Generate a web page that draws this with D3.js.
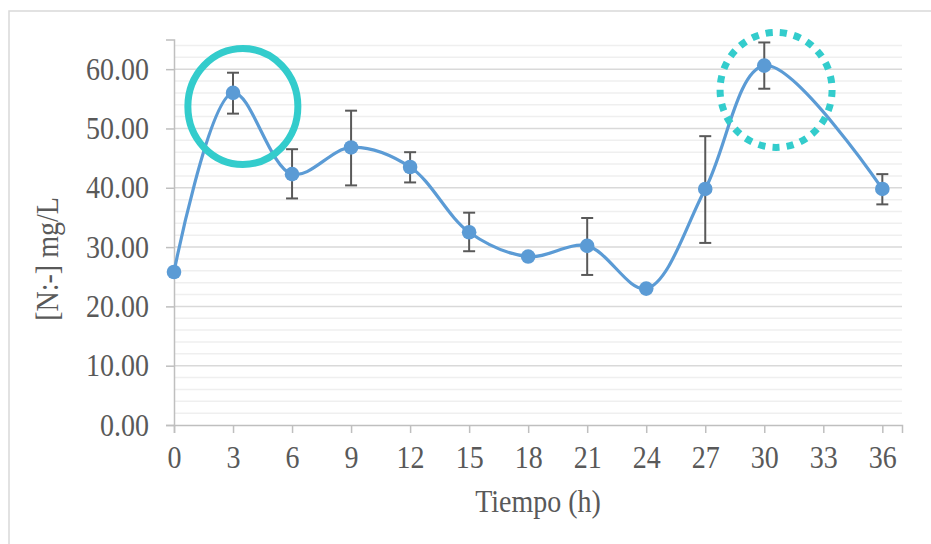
<!DOCTYPE html>
<html>
<head>
<meta charset="utf-8">
<script src="https://cdn.jsdelivr.net/npm/d3@7"></script>
<style>
  html, body { margin: 0; padding: 0; background: #ffffff; }
  svg { display: block; }
  text { font-family: "Liberation Serif", "Times New Roman", serif; fill: #595959; }
</style>
</head>
<body>
<svg id="chart" width="931" height="544"></svg>
<script>
// ---- data ----
const hours      = [0, 3, 6, 9, 12, 15, 18, 21, 24, 27, 30, 36];
const conc       = [25.8, 56.0, 42.3, 46.8, 43.5, 32.5, 28.4, 30.2, 23.0, 39.8, 60.6, 39.8];
const errUpper   = [null, 59.4, 46.5, 53.0, 46.0, 35.8, null, 34.9, null, 48.7, 64.5, 42.3];
const errLower   = [null, 52.5, 38.2, 40.4, 40.9, 29.3, null, 25.3, null, 30.7, 56.7, 37.2];
const xTickVals  = [0, 3, 6, 9, 12, 15, 18, 21, 24, 27, 30, 33, 36];
const yTickVals  = [0, 10, 20, 30, 40, 50, 60];
const yMinorVals = d3.range(0, 65, 2);
const xTitle = "Tiempo (h)";
const yTitle = "[N:-] mg/L";
// highlight annotations (data coords of centre)
const highlightX = [3.5, 30.6];
const highlightY = [53.7, 56.5];
const highlightStyle = ["solid", "dotted"];

// ---- layout ----
const svg = d3.select("#chart");
const x = d3.scaleLinear().domain([0, 37]).range([174, 902]);
const y = d3.scaleLinear().domain([0, 65]).range([425, 39.5]);
const SY = 1.12; // vertical stretch of the text in the reference

// outer chart border
svg.append("rect").attr("x", 9).attr("y", 11).attr("width", 940).attr("height", 560)
  .attr("fill", "none").attr("stroke", "#d9d9d9").attr("stroke-width", 1.5);

// minor gridlines
svg.append("g").selectAll("line").data(yMinorVals.filter(v => v % 10 !== 0)).join("line")
  .attr("x1", x(0)).attr("x2", x(37)).attr("y1", d => y(d)).attr("y2", d => y(d))
  .attr("stroke", "#efefef").attr("stroke-width", 1.5);

// major gridlines
svg.append("g").selectAll("line").data(yTickVals.filter(v => v > 0)).join("line")
  .attr("x1", x(0)).attr("x2", x(37)).attr("y1", d => y(d)).attr("y2", d => y(d))
  .attr("stroke", "#d9d9d9").attr("stroke-width", 1.5);

// y axis
const yAxis = d3.axisLeft(y).tickValues(yTickVals).tickFormat(d3.format(".2f")).tickSize(8).tickPadding(17);
const gy = svg.append("g").attr("transform", `translate(${x(0)},0)`).call(yAxis);
gy.select(".domain").attr("stroke", "#bfbfbf").attr("stroke-width", 1.5);
gy.selectAll(".tick line").attr("stroke", "#bfbfbf").attr("stroke-width", 1.5);
gy.selectAll(".tick text").attr("font-size", 28).attr("fill", "#595959")
  .attr("transform", `scale(1,${SY})`)
  .style("font-family", '"Liberation Serif", serif');

// x axis
const xAxis = d3.axisBottom(x).tickValues(xTickVals).tickFormat(d3.format("d")).tickSize(8).tickPadding(10.5);
const gx = svg.append("g").attr("transform", `translate(0,${y(0)})`).call(xAxis);
gx.select(".domain").attr("stroke", "#bfbfbf").attr("stroke-width", 1.5);
gx.selectAll(".tick line").attr("stroke", "#bfbfbf").attr("stroke-width", 1.5);
gx.selectAll(".tick text").attr("font-size", 28).attr("fill", "#595959")
  .attr("transform", `scale(1,${SY})`)
  .style("font-family", '"Liberation Serif", serif');

// axis titles
svg.append("text").attr("transform", `translate(538,511.5) scale(1,${SY})`).attr("text-anchor", "middle")
  .attr("font-size", 28).text(xTitle);
svg.append("text").attr("transform", `translate(58,259) rotate(-90) scale(1,${SY})`).attr("text-anchor", "middle")
  .attr("font-size", 28).text(yTitle);

// data
const pts = hours.map((h, i) => ({ h, v: conc[i], hi: errUpper[i], lo: errLower[i] }));

// smoothed line
const line = d3.line().x(d => x(d.h)).y(d => y(d.v)).curve(d3.curveCatmullRom.alpha(0.5));
svg.append("path").datum(pts).attr("d", line)
  .attr("fill", "none").attr("stroke", "#5b9bd5").attr("stroke-width", 3.2)
  .attr("stroke-linejoin", "round").attr("stroke-linecap", "round");

// error bars
const eb = svg.append("g").attr("stroke", "#595959").attr("stroke-width", 2);
const withErr = pts.filter(d => d.hi !== null);
eb.selectAll("line.v").data(withErr).join("line").attr("class", "v")
  .attr("x1", d => x(d.h)).attr("x2", d => x(d.h)).attr("y1", d => y(d.hi)).attr("y2", d => y(d.lo));
eb.selectAll("line.t").data(withErr).join("line").attr("class", "t")
  .attr("x1", d => x(d.h) - 6).attr("x2", d => x(d.h) + 6).attr("y1", d => y(d.hi)).attr("y2", d => y(d.hi));
eb.selectAll("line.b").data(withErr).join("line").attr("class", "b")
  .attr("x1", d => x(d.h) - 6).attr("x2", d => x(d.h) + 6).attr("y1", d => y(d.lo)).attr("y2", d => y(d.lo));

// markers
svg.append("g").selectAll("circle").data(pts).join("circle")
  .attr("cx", d => x(d.h)).attr("cy", d => y(d.v)).attr("r", 7.3)
  .attr("fill", "#5b9bd5");

// highlight ellipses
const hl = highlightX.map((hx, i) => ({ hx, hy: highlightY[i], style: highlightStyle[i] }));
svg.append("g").selectAll("ellipse").data(hl).join("ellipse")
  .attr("cx", d => x(d.hx)).attr("cy", d => y(d.hy))
  .attr("rx", d => d.style === "solid" ? 55 : 56)
  .attr("ry", d => d.style === "solid" ? 58 : 57.5)
  .attr("fill", "none").attr("stroke", "#33cccc")
  .attr("stroke-width", 7)
  .attr("stroke-dasharray", d => {
    if (d.style === "solid") return null;
    const c = 2 * Math.PI * 56.7;
    const p = c / 25;
    return `${p * 0.5},${p * 0.5}`;
  });
</script>
</body>
</html>
